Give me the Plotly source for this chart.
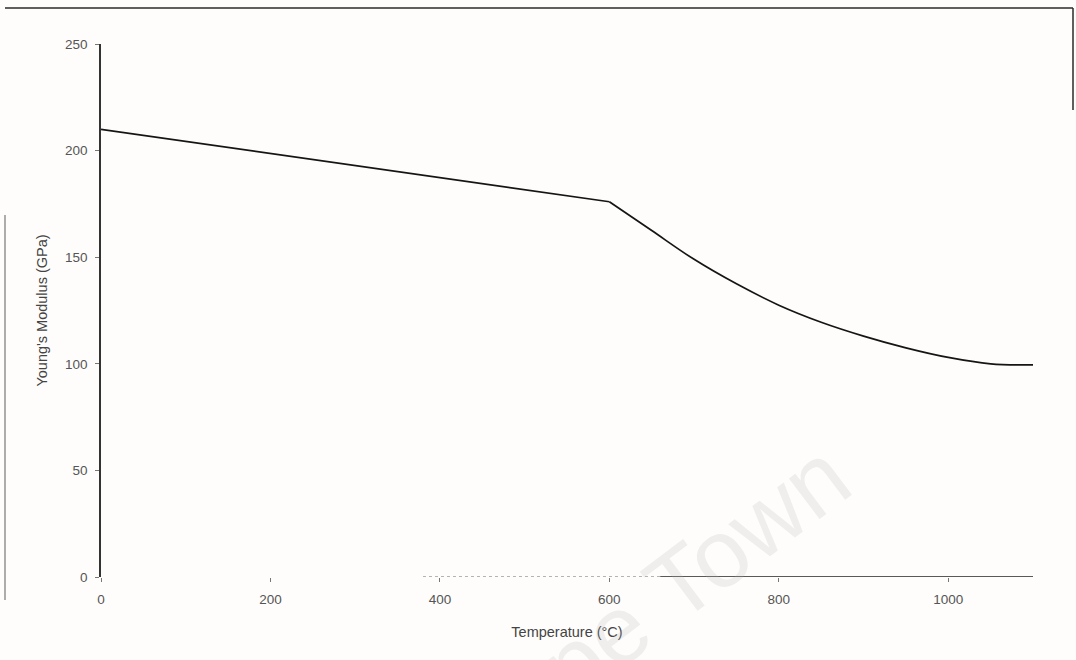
import plotly.graph_objects as go

# Young's modulus of steel against temperature
temperature_c = [0, 600, 650, 700, 750, 800, 850, 900, 950, 1000, 1050, 1100]
youngs_modulus_gpa = [210, 176, 162.5, 149, 137.5, 127.5, 119.5, 113, 107.5, 103, 100, 99.5]

x_ticks = [0, 200, 400, 600, 800, 1000]
y_ticks = [0, 50, 100, 150, 200, 250]

W, H = 1076, 660
L, R, T, B = 101, 43, 44, 83
plot_w, plot_h = W - L - R, H - T - B


def px(x):
    return (x - L) / plot_w


def py(y):
    return (H - B - y) / plot_h


tick_font = dict(family="Liberation Sans, Arial, sans-serif", size=13.5, color="#555555")
title_font = dict(family="Liberation Sans, Arial, sans-serif", size=14.5, color="#444444")

# the straight part up to 600 °C, then the smooth drop above it
knee = temperature_c.index(600)
line_style = dict(color="#151515", width=1.7)

fig = go.Figure()
fig.add_trace(go.Scatter(
    x=temperature_c[:knee + 1], y=youngs_modulus_gpa[:knee + 1], mode="lines",
    line=line_style, showlegend=False,
))
fig.add_trace(go.Scatter(
    x=temperature_c[knee:], y=youngs_modulus_gpa[knee:], mode="lines",
    line=dict(shape="spline", smoothing=1.0, **line_style), showlegend=False,
))

axis_common = dict(
    showgrid=False, zeroline=False, ticks="outside", tickcolor="#777777",
    ticklen=4, tickfont=tick_font, automargin=False,
)

fig.update_xaxes(
    range=[0, 1100], tickvals=x_ticks, ticklabelstandoff=6, showline=False,
    title=dict(text="Temperature (°C)", font=title_font, standoff=20),
    **axis_common,
)
fig.update_yaxes(
    range=[0, 250], tickvals=y_ticks, ticklabelstandoff=5,
    showline=True, linecolor="#333333", linewidth=1.5,
    title=dict(text="Young's Modulus (GPa)", font=title_font, standoff=14),
    **axis_common,
)

# temperature axis: worn, dotted on the left and solid from ~660 °C on
fig.add_shape(type="line", xref="x", yref="y", x0=380, x1=660, y0=0, y1=0,
              line=dict(color="#9a9a9a", width=1.3, dash="dot"))
fig.add_shape(type="line", xref="x", yref="y", x0=660, x1=1100, y0=0, y1=0,
              line=dict(color="#222222", width=1.6))

# page border lines of the printed sheet
border = dict(color="#2a2a2a", width=1.5)
fig.add_shape(type="line", xref="paper", yref="paper",
              x0=px(5), x1=px(1073), y0=py(8), y1=py(8), line=border)
fig.add_shape(type="line", xref="paper", yref="paper",
              x0=px(1073), x1=px(1073), y0=py(8), y1=py(110), line=border)
fig.add_shape(type="line", xref="paper", yref="paper",
              x0=px(5), x1=px(5), y0=py(215), y1=py(600),
              line=dict(color="#777777", width=1.2))

# faint watermark running off the bottom of the sheet
fig.add_annotation(
    text="Cape Town", xref="paper", yref="paper", x=px(645), y=py(608),
    xanchor="center", yanchor="middle",
    showarrow=False, textangle=-37,
    font=dict(family="Liberation Sans, Arial, sans-serif", size=96,
              color="rgba(180,180,180,0.2)"),
)

fig.update_layout(
    width=W, height=H,
    margin=dict(l=L, r=R, t=T, b=B),
    paper_bgcolor="#fefdfb", plot_bgcolor="#fefdfb",
)

fig.write_html("out.html")
